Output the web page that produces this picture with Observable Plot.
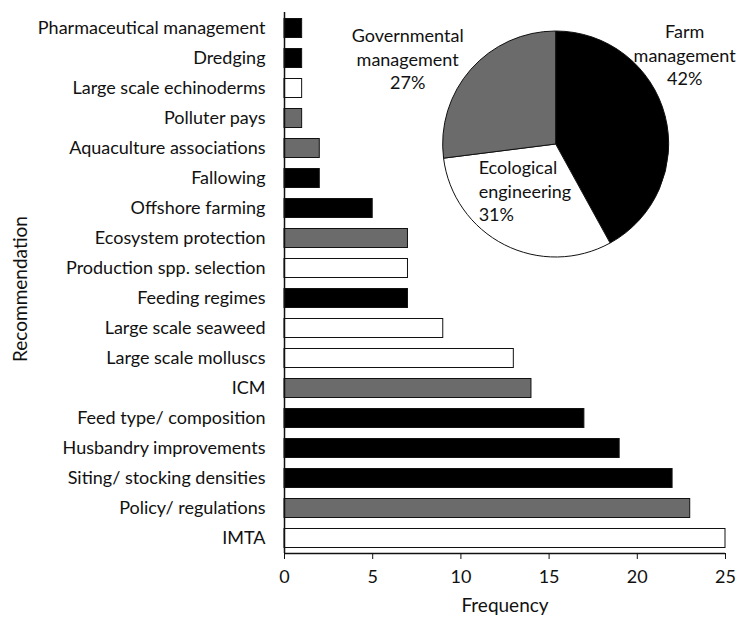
<!DOCTYPE html>
<html>
<head>
<meta charset="utf-8">
<script src="https://cdn.jsdelivr.net/npm/d3@7"></script>
<script src="https://cdn.jsdelivr.net/npm/@observablehq/plot@0.6"></script>
<style>
  html, body { margin: 0; padding: 0; background: #fff; }
  #chart svg { font-family: Lato, "Open Sans", sans-serif; }
</style>
</head>
<body>
<div id="chart"></div>
<script>
// Bar chart data (top to bottom)
const recommendations = [
  "Pharmaceutical management", "Dredging", "Large scale echinoderms", "Polluter pays",
  "Aquaculture associations", "Fallowing", "Offshore farming", "Ecosystem protection",
  "Production spp. selection", "Feeding regimes", "Large scale seaweed", "Large scale molluscs",
  "ICM", "Feed type/ composition", "Husbandry improvements", "Siting/ stocking densities",
  "Policy/ regulations", "IMTA"
];
const frequencies = [1, 1, 1, 1, 2, 2, 5, 7, 7, 7, 9, 13, 14, 17, 19, 22, 23, 25];
const groups = [
  "Farm", "Farm", "Eco", "Gov", "Gov", "Farm", "Farm", "Gov", "Eco", "Farm",
  "Eco", "Eco", "Gov", "Farm", "Farm", "Farm", "Gov", "Eco"
];
const xTicks = [0, 5, 10, 15, 20, 25];
const xTitle = "Frequency";
const yTitle = "Recommendation";

// Pie data
const pieKeys = ["Farm", "Eco", "Gov"];
const pieLabels = [["Farm", "management", "42%"], ["Ecological", "engineering", "31%"], ["Governmental", "management", "27%"]];
const pieShares = [42, 31, 27];

const groupColors = {Farm: "#000000", Eco: "#ffffff", Gov: "#6b6b6b"};

const bars = recommendations.map((r, i) => ({rec: r, freq: frequencies[i], group: groups[i]}));
const pieData = pieKeys.map((k, i) => ({key: k, share: pieShares[i], label: pieLabels[i]}));

function pieMark(index, scales, values, dims) {
  const cx = scales.x(15.4);
  const cy = dims.marginTop + 132;
  const r = 113;
  const g = d3.create("svg:g").attr("transform", `translate(${cx},${cy})`);
  const arcs = d3.pie().sort(null).value(d => d.share)(pieData);
  const arc = d3.arc().innerRadius(0).outerRadius(r);
  g.selectAll("path").data(arcs).join("path")
    .attr("d", arc)
    .attr("fill", d => groupColors[d.data.key])
    .attr("stroke", "#111")
    .attr("stroke-width", 1);
  // labels: [dx, dy of first baseline, anchor]
  const labelPos = {Farm: [129, -106, "middle"], Eco: [-77, 30, "start"], Gov: [-148, -102, "middle"]};
  for (const d of pieData) {
    const [dx, dy, anchor] = labelPos[d.key];
    const t = g.append("text")
      .attr("text-anchor", anchor)
      .attr("font-size", 18)
      .attr("fill", "#111")
      .attr("transform", `translate(${dx},${dy})`);
    d.label.forEach((line, j) => {
      t.append("tspan").attr("x", 0).attr("y", j * 23.5).text(line);
    });
  }
  return g.node();
}

const chart = Plot.plot({
  width: 745,
  height: 617,
  marginLeft: 284,
  marginRight: 20,
  marginTop: 12,
  marginBottom: 64,
  style: {fontSize: "18px", color: "#111", background: "#fff"},
  x: {domain: [0, 25]},
  y: {domain: recommendations, padding: 0},
  marks: [
    Plot.barX(bars, {
      x: "freq", y: "rec",
      fill: d => groupColors[d.group],
      stroke: "#111", strokeWidth: 1,
      insetTop: 5.5, insetBottom: 5.5
    }),
    Plot.axisX({
      ticks: xTicks, tickSize: 6, tickPadding: 11, fontSize: 18, label: null
    }),
    Plot.axisY({
      tickSize: 0, tickPadding: 19, fontSize: 18, label: null
    }),
    Plot.text([xTitle], {
      text: d => d, frameAnchor: "bottom", lineAnchor: "middle",
      dy: 52, fontSize: 19, fill: "#111"
    }),
    Plot.text([yTitle], {
      text: d => d, frameAnchor: "left", textAnchor: "middle", lineAnchor: "middle",
      rotate: -90, dx: -264, dy: 6, fontSize: 19, fill: "#111"
    }),
    Plot.ruleX([0], {stroke: "#111", strokeWidth: 1.5}),
    Plot.ruleY(["IMTA"], {x1: 0, x2: 25, dy: 15, stroke: "#111", strokeWidth: 1.5}),
    pieMark
  ]
});

document.getElementById("chart").appendChild(chart);
</script>
</body>
</html>
